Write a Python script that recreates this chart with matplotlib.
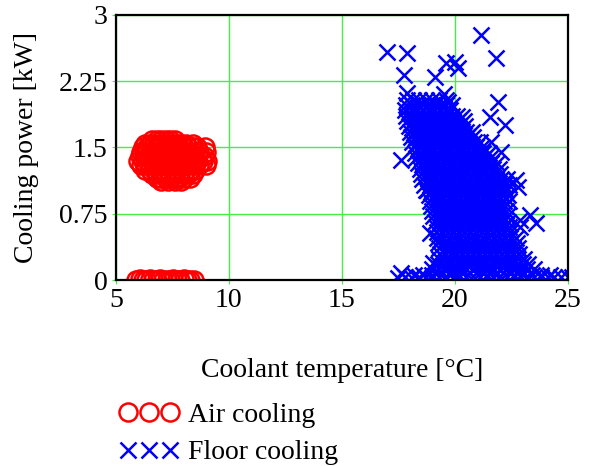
import numpy as np
import matplotlib.pyplot as plt

plt.rcParams['font.family'] = ['Liberation Serif', 'DejaVu Serif']

# Air cooling, unit running: power level -> temperatures read along that level
air_rows = {
    1.58: [6.6, 6.8, 7.0, 7.2, 7.4, 7.6],
    1.54: [6.3, 6.5, 6.7, 6.9, 7.1, 7.3, 7.5, 7.7, 7.9, 8.1, 8.4],
    1.50: [6.2, 6.4, 6.6, 6.8, 7.0, 7.2, 7.4, 7.6, 7.8, 8.0, 8.2, 8.4, 8.6, 8.95],
    1.45: [6.1, 6.3, 6.5, 6.7, 6.9, 7.1, 7.3, 7.5, 7.7, 7.9, 8.1, 8.3, 8.5, 8.7, 9.0],
    1.40: [6.05, 6.25, 6.45, 6.65, 6.85, 7.05, 7.25, 7.45, 7.65, 7.85, 8.05, 8.25, 8.45, 8.65, 8.9],
    1.35: [6.0, 6.2, 6.4, 6.6, 6.8, 7.0, 7.2, 7.4, 7.6, 7.8, 8.0, 8.2, 8.4, 8.6, 8.85, 9.05],
    1.30: [6.1, 6.3, 6.5, 6.7, 6.9, 7.1, 7.3, 7.5, 7.7, 7.9, 8.1, 8.3, 8.5, 8.7, 9.0],
    1.25: [6.3, 6.5, 6.7, 6.9, 7.1, 7.3, 7.5, 7.7, 7.9, 8.1, 8.3, 8.5],
    1.20: [6.6, 6.8, 7.0, 7.2, 7.4, 7.6, 7.8, 8.0, 8.2, 8.4],
    1.15: [6.8, 7.0, 7.2, 7.4, 7.6, 7.8, 8.0, 8.3],
    1.12: [7.0, 7.3, 7.6, 7.9],
}
# Air cooling, unit idle
air_off_t = [5.9, 6.05, 6.2, 6.35, 6.5, 6.65, 6.8, 6.95, 7.1, 7.25, 7.4, 7.55,
             7.7, 7.85, 8.0, 8.15, 8.3, 8.45]
air_off_p = [0.0, 0.01, 0.0, 0.0, 0.01, 0.0, 0.0, 0.01, 0.0, 0.0, 0.0, 0.01,
             0.0, 0.0, 0.01, 0.0, 0.0, 0.0]

# Floor cooling, scattered high points (temperature, power)
floor_scatter = [
    (16.98, 2.58), (17.86, 2.57), (21.17, 2.77), (21.8, 2.51), (17.73, 2.32),
    (19.14, 2.30), (20.0, 2.47), (20.15, 2.40), (19.6, 2.46), (17.86, 2.12),
    (19.5, 2.10), (19.7, 2.02), (21.9, 2.02), (21.56, 1.85), (20.3, 1.84),
    (22.2, 1.76), (21.6, 1.56), (22.05, 1.45), (22.7, 1.13), (22.8, 1.05),
    (23.3, 0.74), (22.9, 0.60), (23.6, 0.65), (22.9, 0.68), (17.6, 1.36),
    (18.9, 0.53), (18.7, 1.02), (19.05, 0.19), (17.6, 0.08),
]
# Floor cooling, dense body: power level -> temperatures
floor_rows = {
    2.04: [17.9, 18.15, 18.4, 18.7, 19.0, 19.3, 19.6],
    1.98: [17.85, 18.1, 18.35, 18.6, 18.85, 19.1, 19.35, 19.6, 19.85],
    1.92: [17.8, 18.05, 18.3, 18.55, 18.8, 19.05, 19.3, 19.55, 19.8],
    1.86: [17.85, 18.1, 18.35, 18.6, 18.85, 19.1, 19.35, 19.6, 19.85, 20.1],
    1.80: [17.9, 18.15, 18.4, 18.65, 18.9, 19.15, 19.4, 19.65, 19.9, 20.15, 20.4],
    1.74: [17.95, 18.2, 18.45, 18.7, 18.95, 19.2, 19.45, 19.7, 19.95, 20.2, 20.45],
    1.68: [18.0, 18.25, 18.5, 18.75, 19.0, 19.25, 19.5, 19.75, 20.0, 20.25, 20.5, 20.75],
    1.62: [18.05, 18.3, 18.55, 18.8, 19.05, 19.3, 19.55, 19.8, 20.05, 20.3, 20.55, 20.8],
    1.56: [18.1, 18.35, 18.6, 18.85, 19.1, 19.35, 19.6, 19.85, 20.1, 20.35, 20.6, 20.85, 21.1],
    1.50: [18.2, 18.45, 18.7, 18.95, 19.2, 19.45, 19.7, 19.95, 20.2, 20.45, 20.7, 20.95, 21.2],
    1.44: [18.25, 18.5, 18.75, 19.0, 19.25, 19.5, 19.75, 20.0, 20.25, 20.5, 20.75, 21.0, 21.25, 21.5],
    1.38: [18.3, 18.55, 18.8, 19.05, 19.3, 19.55, 19.8, 20.05, 20.3, 20.55, 20.8, 21.05, 21.3, 21.55],
    1.32: [18.35, 18.6, 18.85, 19.1, 19.35, 19.6, 19.85, 20.1, 20.35, 20.6, 20.85, 21.1, 21.35, 21.6, 21.85],
    1.26: [18.45, 18.7, 18.95, 19.2, 19.45, 19.7, 19.95, 20.2, 20.45, 20.7, 20.95, 21.2, 21.45, 21.7, 21.95],
    1.20: [18.5, 18.75, 19.0, 19.25, 19.5, 19.75, 20.0, 20.25, 20.5, 20.75, 21.0, 21.25, 21.5, 21.75, 22.0],
    1.14: [18.55, 18.8, 19.05, 19.3, 19.55, 19.8, 20.05, 20.3, 20.55, 20.8, 21.05, 21.3, 21.55, 21.8, 22.05, 22.3],
    1.08: [18.65, 18.9, 19.15, 19.4, 19.65, 19.9, 20.15, 20.4, 20.65, 20.9, 21.15, 21.4, 21.65, 21.9, 22.15, 22.4],
    1.02: [18.75, 19.0, 19.25, 19.5, 19.75, 20.0, 20.25, 20.5, 20.75, 21.0, 21.25, 21.5, 21.75, 22.0, 22.25],
    0.96: [18.85, 19.1, 19.35, 19.6, 19.85, 20.1, 20.35, 20.6, 20.85, 21.1, 21.35, 21.6, 21.85, 22.1, 22.35],
    0.90: [18.9, 19.15, 19.4, 19.65, 19.9, 20.15, 20.4, 20.65, 20.9, 21.15, 21.4, 21.65, 21.9, 22.15, 22.4],
    0.84: [18.95, 19.2, 19.45, 19.7, 19.95, 20.2, 20.45, 20.7, 20.95, 21.2, 21.45, 21.7, 21.95, 22.2],
    0.78: [19.0, 19.25, 19.5, 19.75, 20.0, 20.25, 20.5, 20.75, 21.0, 21.25, 21.5, 21.75, 22.0, 22.25],
    0.72: [19.05, 19.3, 19.55, 19.8, 20.05, 20.3, 20.55, 20.8, 21.05, 21.3, 21.55, 21.8, 22.05, 22.3],
    0.66: [19.1, 19.35, 19.6, 19.85, 20.1, 20.35, 20.6, 20.85, 21.1, 21.35, 21.6, 21.85, 22.1, 22.35],
    0.60: [19.15, 19.4, 19.65, 19.9, 20.15, 20.4, 20.65, 20.9, 21.15, 21.4, 21.65, 21.9, 22.15, 22.4],
    0.54: [19.2, 19.45, 19.7, 19.95, 20.2, 20.45, 20.7, 20.95, 21.2, 21.45, 21.7, 21.95, 22.2, 22.45],
    0.48: [19.2, 19.45, 19.7, 19.95, 20.2, 20.45, 20.7, 20.95, 21.2, 21.45, 21.7, 21.95, 22.2, 22.45, 22.7],
    0.42: [19.25, 19.5, 19.75, 20.0, 20.25, 20.5, 20.75, 21.0, 21.25, 21.5, 21.75, 22.0, 22.25, 22.5, 22.75],
    0.36: [19.3, 19.55, 19.8, 20.05, 20.3, 20.55, 20.8, 21.05, 21.3, 21.55, 21.8, 22.05, 22.3, 22.55, 22.8],
    0.30: [19.35, 19.6, 19.85, 20.1, 20.35, 20.6, 20.85, 21.1, 21.35, 21.6, 21.85, 22.1, 22.35, 22.6, 22.85],
    0.24: [19.3, 19.55, 19.8, 20.05, 20.3, 20.55, 20.8, 21.05, 21.3, 21.55, 21.8, 22.05, 22.3, 22.55, 22.8, 23.05],
    0.18: [19.25, 19.5, 19.75, 20.0, 20.25, 20.5, 20.75, 21.0, 21.25, 21.5, 21.75, 22.0, 22.25, 22.5, 22.75, 23.0, 23.25],
    0.12: [19.0, 19.3, 19.6, 19.9, 20.2, 20.5, 20.8, 21.1, 21.4, 21.7, 22.0, 22.3, 22.6, 22.9, 23.2, 23.5],
    0.06: [18.2, 18.6, 19.0, 19.4, 19.8, 20.2, 20.6, 21.0, 21.4, 21.8, 22.2, 22.6, 23.0, 23.4, 23.8, 24.2],
}
# Floor cooling, near-zero output
floor_off_t = [17.5, 17.8, 18.1, 18.4, 18.7, 19.0, 19.3, 19.6, 19.9, 20.2, 20.5, 20.8,
               21.1, 21.4, 21.7, 22.0, 22.3, 22.6, 22.9, 23.2, 23.5, 23.8, 24.1,
               24.4, 24.7, 25.0, 25.2]
floor_off_p = [0.02, 0.03, 0.02, 0.04, 0.03, 0.02, 0.04, 0.03, 0.02, 0.04, 0.03, 0.05,
               0.03, 0.04, 0.03, 0.05, 0.04, 0.03, 0.05, 0.04, 0.03, 0.04, 0.03,
               0.04, 0.03, 0.04, 0.03]

x_ticks = [5, 10, 15, 20, 25]
y_ticks = [0, 0.75, 1.5, 2.25, 3]
y_labels = ['0', '0.75', '1.5', '2.25', '3']

air_t = [x for y, xs in air_rows.items() for x in xs] + air_off_t
air_p = [y for y, xs in air_rows.items() for x in xs] + air_off_p
floor_t = ([p[0] for p in floor_scatter] + [x for y, xs in floor_rows.items() for x in xs]
           + floor_off_t)
floor_p = ([p[1] for p in floor_scatter] + [y for y, xs in floor_rows.items() for x in xs]
           + floor_off_p)

fs = 20
fig = plt.figure(figsize=(5.91, 4.66), dpi=100)
ax = fig.add_axes([0.196, 0.399, 0.765, 0.569])

ax.plot(air_t, air_p, linestyle='none', marker='o', markersize=13,
        markerfacecolor='none', markeredgecolor='#ff0000', markeredgewidth=1.8,
        label='Air cooling')
ax.plot(floor_t, floor_p, linestyle='none', marker='x', markersize=12,
        markeredgecolor='#0000ff', markeredgewidth=1.8, label='Floor cooling')

ax.set_xlim(5, 25)
ax.set_ylim(0, 3)
ax.set_xticks(x_ticks)
ax.set_yticks(y_ticks)
ax.set_yticklabels(y_labels)
ax.grid(True, color='#44ee44', linewidth=1)
ax.set_axisbelow(True)
ax.tick_params(length=3, color='#44ee44', labelsize=fs, pad=3)
for s in ax.spines.values():
    s.set_linewidth(1.6)

ax.set_xlabel('Coolant temperature [°C]', fontsize=fs, labelpad=32)
ax.set_ylabel('Cooling power [kW]', fontsize=fs, labelpad=14)

fig.legend(loc='upper left', bbox_to_anchor=(0.203, 0.136), frameon=False,
           numpoints=3, handlelength=2.1, handletextpad=0.34, fontsize=fs,
           labelspacing=0.43, borderpad=0, borderaxespad=0)

fig.savefig('out.png', dpi=100)
